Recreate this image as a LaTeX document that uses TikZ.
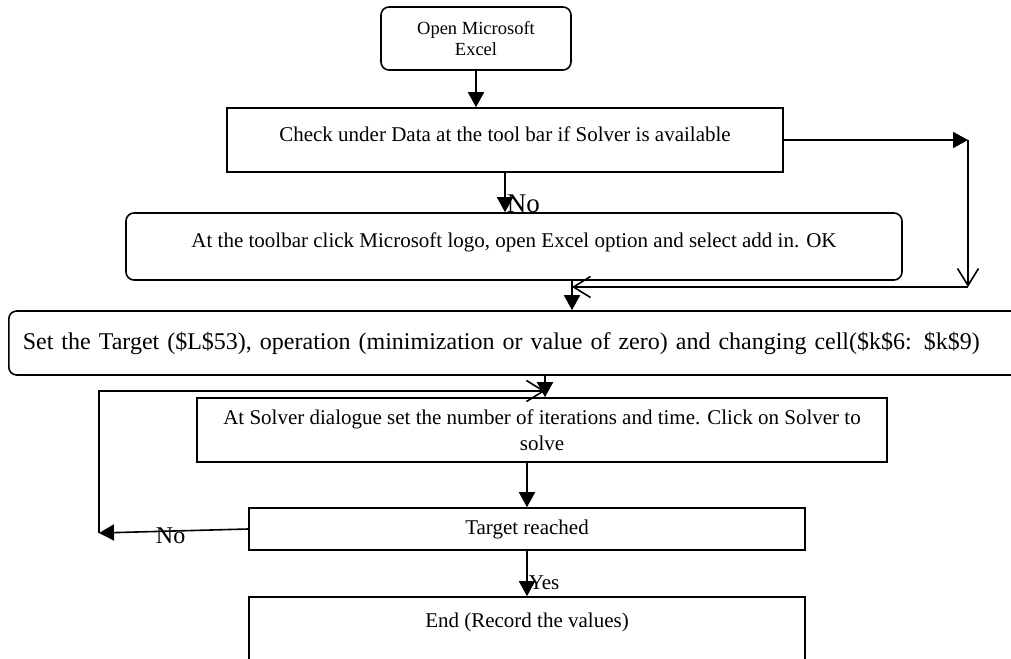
\documentclass[tikz,border=0pt]{standalone}
\usepackage{fontspec}
\setmainfont{Liberation Serif}
\usetikzlibrary{arrows.meta}

\begin{document}
\begin{tikzpicture}[x=1pt, y=-1pt, line width=1.6pt,
  stepbox/.style={draw, inner sep=0pt, font=\fontsize{21}{26}\selectfont},
  roundbox/.style={stepbox, rounded corners=8pt},
  fill arrow/.style={-{Triangle[length=15pt,width=16pt]}},
  barb arrow/.style={-{Straight Barb[length=17pt,width=21pt]}},
  label text/.style={inner sep=1pt, font=\fontsize{#1}{#1}\selectfont}]
\useasboundingbox (0,0) rectangle (1011,658);

\node[roundbox, minimum width=190pt, minimum height=63pt, align=center,
  font=\fontsize{18.5}{21}\selectfont] (open) at (476,38.5) {Open Microsoft\\Excel};
\node[stepbox, minimum width=556pt, minimum height=64pt, text height=14pt,
  text depth=12pt] (check) at (505,140) {Check under Data at the tool bar if Solver is available};
\node[roundbox, minimum width=776pt, minimum height=67pt, text height=14pt,
  text depth=13pt] (addin) at (514,246.5) {At the toolbar click Microsoft logo, open Excel option and select add in. OK};
\node[roundbox, anchor=west, minimum height=64pt, inner xsep=14pt, text width=1010pt,
  align=left, font=\fontsize{24}{26}\selectfont] (settarget) at (8,343)
  {Set the Target (\$L\$53), operation (minimization or value of zero) and changing cell(\$k\$6: \$k\$9)};
\node[stepbox, minimum width=690pt, minimum height=64pt, align=center] (solver) at (542,430)
  {At Solver dialogue set the number of iterations and time. Click on Solver to\\solve};
\node[stepbox, minimum width=556pt, minimum height=42pt] (target) at (527,529) {Target reached};
\node[stepbox, minimum width=556pt, minimum height=70pt, text height=14pt,
  text depth=24pt] (end) at (527,632) {End (Record the values)};

\coordinate (r1) at (968,140);
\coordinate (r2) at (968,287);
\coordinate (r3) at (572,287);
\coordinate (l1) at (99,533);
\coordinate (l2) at (99,391);
\coordinate (l3) at (545,391);

\draw[fill arrow] (open.south) -- (open.south |- check.north);
\draw[fill arrow] (check.east) -- (r1);
\draw[barb arrow] (r1) -- (r2);
\draw[barb arrow] (r2) -- (r3);
\draw[fill arrow] (check.south) -- (check.south |- addin.north)
  node[anchor=base west, label text=27] {No};
\draw[fill arrow] (addin.south -| r3) -- (settarget.north -| r3);
\draw[fill arrow] (settarget.south -| l3) -- (solver.north -| l3);
\draw[barb arrow] (l1) -- (l2) -- (l3);
\draw[fill arrow] (solver.south -| target.north) -- (target.north);
\draw[fill arrow] (target.west) -- (l1)
  node[pos=0.52, anchor=base, yshift=-12pt, label text=24] {No};
\draw[fill arrow] (target.south) -- (end.north)
  node[anchor=base west, yshift=7pt, label text=21] {Yes};
\end{tikzpicture}
\end{document}
